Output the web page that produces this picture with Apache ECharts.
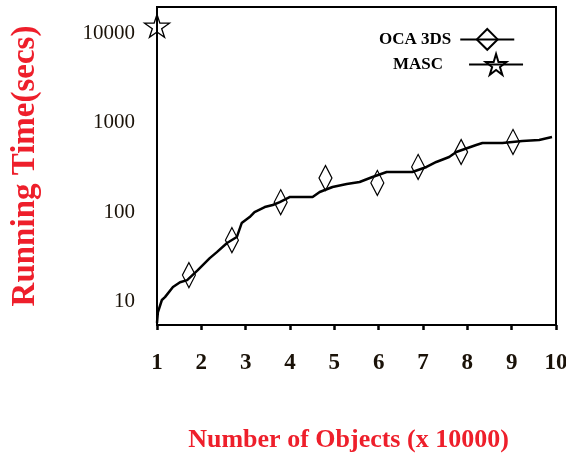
<!DOCTYPE html>
<html>
<head>
<meta charset="utf-8">
<script src="https://cdn.jsdelivr.net/npm/echarts@6/dist/echarts.min.js"></script>
<style>
html,body{margin:0;padding:0;background:#fff;}
#chart{width:566px;height:455px;}
</style>
</head>
<body>
<div id="chart"></div>
<script>
// x tick labels and y tick labels
var xTicks = [1, 2, 3, 4, 5, 6, 7, 8, 9, 10];
var yTickLabels = ['10', '100', '1000', '10000'];

// traced running-time curve (x in units of 10000 objects, seconds)
var curveX = [1.0, 1.02, 1.11, 1.18, 1.36, 1.52, 1.68, 1.92, 2.19, 2.35, 2.58, 2.80, 2.91, 3.09, 3.20, 3.43, 3.61, 3.77, 3.99, 4.51, 4.67, 4.96, 5.28, 5.57, 5.86, 6.18, 6.76, 7.08, 7.30, 7.59, 7.75, 8.20, 8.34, 8.79, 9.24, 9.62, 9.91];
var curveY = [5.7, 7.5, 10.3, 11.1, 14.4, 16.3, 17.2, 22.3, 30.4, 35.5, 44.9, 52.4, 75.2, 87.9, 100, 113.8, 119.9, 129.5, 147.4, 147.4, 167.9, 191.1, 206.5, 217.5, 247.4, 281.5, 281.5, 320.4, 364.7, 415, 472, 566, 596, 596, 628, 644, 696];

// OCA 3DS markers (diamonds)
var ocaX = [1.72, 2.69, 3.79, 4.80, 5.97, 6.89, 7.86, 9.03];
var ocaY = [19.6, 48.4, 129, 241, 212, 321, 472, 612];

// MASC marker (star)
var mascX = [1];
var mascY = [12300];

var starPath = 'path://M50,0 L61,35 L98,35 L68,57 L79,91 L50,70 L21,91 L32,57 L2,35 L39,35 Z';
var red = '#ee1f2b';
var serif = '"Liberation Serif", "DejaVu Serif", serif';

function zip(a, b) { return a.map(function (v, i) { return [v, b[i]]; }); }

var chart = echarts.init(document.getElementById('chart'), null, {renderer: 'canvas'});
chart.setOption({
  animation: false,
  backgroundColor: '#fff',
  grid: {left: 157, right: 10, top: 7, bottom: 130, containLabel: false, outerBoundsMode: 'none',
    show: true, borderColor: '#000', borderWidth: 2, backgroundColor: 'transparent'},
  legend: [
    {
      data: ['OCA 3DS'], orient: 'vertical', align: 'right', left: 374, top: 23,
      itemWidth: 54, itemHeight: 26, itemGap: 4,
      textStyle: {fontFamily: serif, fontWeight: 'bold', fontSize: 17, color: '#000', padding: [0, 4, 0, 0]},
      lineStyle: {opacity: 1, width: 2, color: '#000'}
    },
    {
      data: ['MASC'], orient: 'vertical', align: 'right', left: 388, top: 48,
      itemWidth: 54, itemHeight: 26,
      textStyle: {fontFamily: serif, fontWeight: 'bold', fontSize: 17, color: '#000', padding: [0, 21, 0, 0]},
      lineStyle: {opacity: 1, width: 2, color: '#000'}
    }
  ],
  xAxis: {
    type: 'value', min: 1, max: 10, interval: 1,
    name: 'Number of Objects (x 10000)', nameLocation: 'middle', nameGap: 102,
    nameTextStyle: {fontFamily: serif, fontWeight: 'bold', fontSize: 26, color: red, padding: [0, 16, 0, 0]},
    axisLine: {lineStyle: {color: '#000', width: 2}},
    axisTick: {show: true, length: 5, lineStyle: {color: '#000', width: 2.5}},
    axisLabel: {margin: 27, fontFamily: serif, fontWeight: 'bold', fontSize: 23, color: '#1a1208',
      formatter: function (v) { var i = xTicks.indexOf(Math.round(v)); return i >= 0 ? String(xTicks[i]) : ''; }},
    splitLine: {show: false}
  },
  yAxis: {
    type: 'log', logBase: 10, min: 5.4, max: 20000,
    name: 'Running Time(secs)', nameLocation: 'middle', nameGap: 115,
    nameTextStyle: {fontFamily: serif, fontWeight: 'bold', fontSize: 33, color: red},
    axisLine: {show: true, lineStyle: {color: '#000', width: 2}},
    axisTick: {show: false},
    axisLabel: {margin: 22, fontFamily: serif, fontSize: 21, color: '#1a1208', showMinLabel: false, showMaxLabel: false,
      formatter: function (v) {
        var e = Math.round(Math.log10(v)) - 1;
        return (Math.abs(Math.log10(v) - Math.round(Math.log10(v))) < 1e-6 && yTickLabels[e]) ? yTickLabels[e] : '';
      }},
    splitLine: {show: false},
    minorTick: {show: false}
  },
  series: [
    {
      name: 'curve', type: 'line', data: zip(curveX, curveY), symbol: 'none',
      lineStyle: {color: '#000', width: 2.5}, silent: true, z: 2
    },
    {
      name: 'OCA 3DS', type: 'line', data: zip(ocaX, ocaY), symbol: 'diamond', symbolSize: [13, 25],
      lineStyle: {opacity: 0}, itemStyle: {color: 'rgba(255,255,255,0)', borderColor: '#000', borderWidth: 1.3}, z: 3
    },
    {
      name: 'MASC', type: 'line', data: zip(mascX, mascY), symbol: starPath, symbolSize: [25, 23], clip: false,
      lineStyle: {color: '#000', width: 2}, itemStyle: {color: 'rgba(255,255,255,0)', borderColor: '#000', borderWidth: 1.3}, z: 3
    }
  ]
});
</script>
</body>
</html>
